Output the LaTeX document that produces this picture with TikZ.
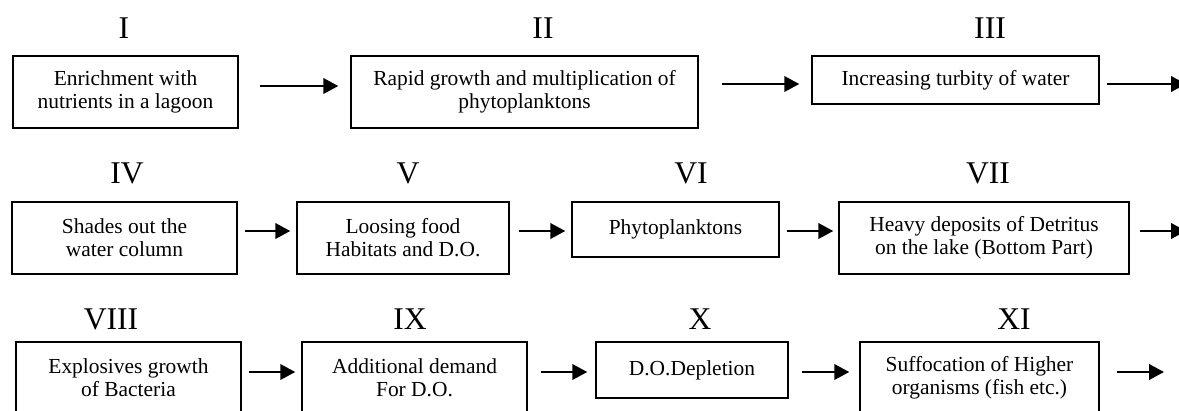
\documentclass[tikz,border=0pt]{standalone}
\usepackage{fontspec}
\setmainfont{Liberation Serif}
\usepackage{tikz}
\usetikzlibrary{arrows.meta}

\begin{document}
\begin{tikzpicture}[x=0.02cm, y=-0.02cm,
    box/.style={draw, line width=0.85pt, inner sep=0pt, align=center,
      font=\fontsize{12.2}{13}\selectfont},
    num/.style={inner sep=0pt, font=\fontsize{18}{20}\selectfont},
    flow/.style={-{Triangle[length=3mm, width=3.1mm]}, line width=1.3pt}]
  \clip (0,0) rectangle (1179,410);
  % row 1
  \node[num] at (124,28) {I};
  \node[num] at (543,28) {II};
  \node[num] at (990,28) {III};
  \node[box, minimum width=4.5cm, minimum height=1.44cm] (enrich) at (125.5,92)
    {Enrichment with\\ nutrients in a lagoon};
  \node[box, minimum width=6.94cm, minimum height=1.44cm] (growth) at (524.5,92)
    {Rapid growth and multiplication of\\ phytoplanktons};
  \node[box, minimum width=5.74cm, minimum height=0.96cm] (turbid) at (955.5,80)
    {Increasing turbity of water};
  \coordinate (out1) at (1186,84);
  \draw[flow, shorten <=0.42cm, shorten >=0.24cm] (enrich.east |- 0,86) -- (growth.west |- 0,86);
  \draw[flow, shorten <=0.46cm, shorten >=0.24cm] (growth.east |- 0,84) -- (turbid.west |- 0,84);
  \draw[flow, shorten <=0.14cm] (turbid.east |- 0,84) -- (out1);
  % row 2
  \node[num] at (127,173) {IV};
  \node[num] at (408,173) {V};
  \node[num] at (691,173) {VI};
  \node[num] at (988,173) {VII};
  \node[box, minimum width=4.5cm, minimum height=1.44cm] (shade) at (124.5,238)
    {Shades out the\\ water column};
  \node[box, minimum width=4.24cm, minimum height=1.44cm] (loss) at (403,238)
    {Loosing food\\ Habitats and D.O.};
  \node[box, minimum width=4.14cm, minimum height=1.1cm] (phyto) at (675.5,229.5)
    {Phytoplanktons};
  \node[box, minimum width=5.8cm, minimum height=1.44cm] (detritus) at (984,238)
    {Heavy deposits of Detritus\\ on the lake (Bottom Part)};
  \coordinate (out2) at (1186,231);
  \draw[flow, shorten <=0.14cm, shorten >=0.12cm] (shade.east |- 0,231) -- (loss.west |- 0,231);
  \draw[flow, shorten <=0.18cm, shorten >=0.12cm] (loss.east |- 0,231) -- (phyto.west |- 0,231);
  \draw[flow, shorten <=0.14cm, shorten >=0.10cm] (phyto.east |- 0,231) -- (detritus.west |- 0,231);
  \draw[flow, shorten <=0.20cm] (detritus.east |- 0,231) -- (out2);
  % row 3
  \node[num] at (111,319) {VIII};
  \node[num] at (410,319) {IX};
  \node[num] at (700,319) {X};
  \node[num] at (1014,319) {XI};
  \node[box, minimum width=4.5cm, minimum height=1.42cm] (bact) at (128.5,377.5)
    {Explosives growth\\ of Bacteria};
  \node[box, minimum width=4.5cm, minimum height=1.42cm] (demand) at (414.5,377.5)
    {Additional demand\\ For D.O.};
  \node[box, minimum width=3.84cm, minimum height=1.12cm] (deplete) at (692,370)
    {D.O.Depletion};
  \node[box, minimum width=4.78cm, minimum height=1.42cm] (suffoc) at (979.5,377.5)
    {Suffocation of Higher\\ organisms (fish etc.)};
  \coordinate (out3) at (1164,372);
  \draw[flow, shorten <=0.14cm, shorten >=0.12cm] (bact.east |- 0,372) -- (demand.west |- 0,372);
  \draw[flow, shorten <=0.26cm, shorten >=0.16cm] (demand.east |- 0,372) -- (deplete.west |- 0,372);
  \draw[flow, shorten <=0.26cm, shorten >=0.20cm] (deplete.east |- 0,372) -- (suffoc.west |- 0,372);
  \draw[flow, shorten <=0.34cm] (suffoc.east |- 0,372) -- (out3);
\end{tikzpicture}
\end{document}
